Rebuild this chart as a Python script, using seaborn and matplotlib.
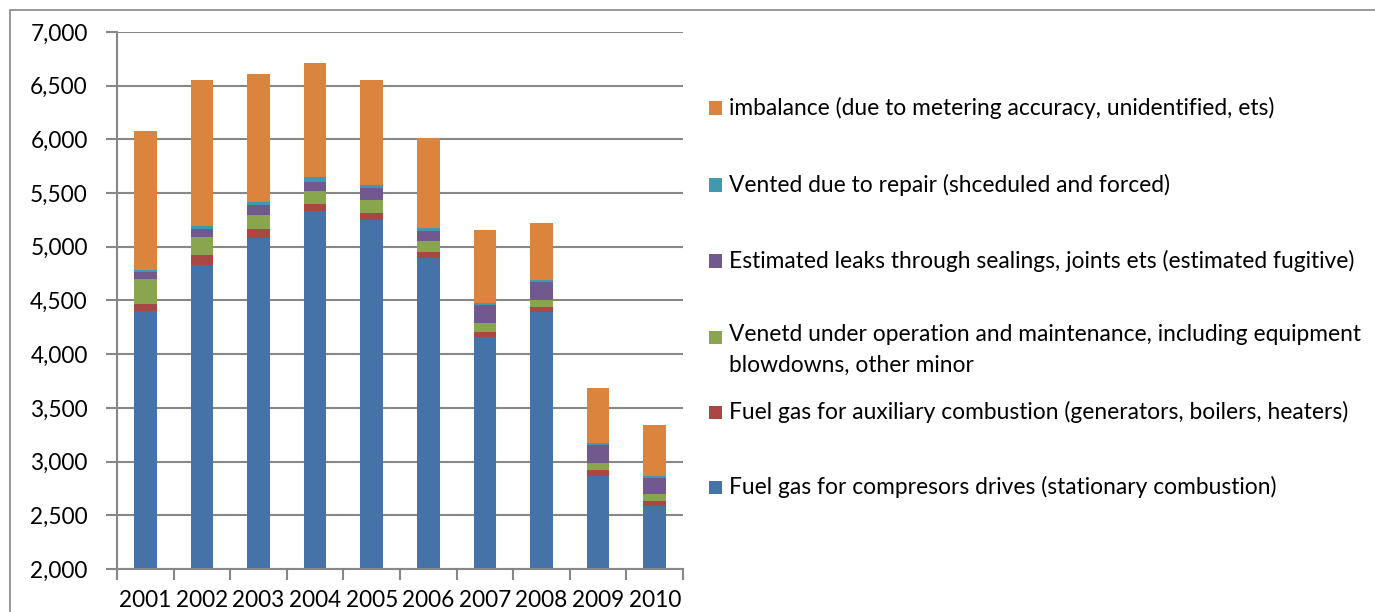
import numpy as np
import pandas as pd
import matplotlib
matplotlib.use("Agg")
import matplotlib.pyplot as plt
import seaborn as sns
from matplotlib.patches import Rectangle
from matplotlib.ticker import FuncFormatter, FixedLocator

years = ["2001", "2002", "2003", "2004", "2005", "2006", "2007", "2008", "2009", "2010"]
compressor = [4400, 4830, 5085, 5330, 5250, 4900, 4160, 4390, 2870, 2585]
auxiliary = [65, 90, 77, 70, 68, 56, 50, 47, 53, 46]
vented_om = [235, 175, 137, 115, 121, 97, 84, 68, 62, 68]
leaks = [70, 70, 90, 93, 106, 96, 161, 171, 165, 146]
vented_repair = [15, 25, 25, 40, 31, 28, 22, 19, 19, 22]
imbalance = [1295, 1360, 1195, 1065, 973, 835, 680, 531, 515, 478]

series_names = [
    "Fuel gas for compresors drives (stationary combustion)",
    "Fuel gas for auxiliary combustion (generators, boilers, heaters)",
    "Venetd under operation and maintenance, including equipment\nblowdowns, other minor",
    "Estimated leaks through sealings, joints ets (estimated fugitive)",
    "Vented due to repair (shceduled and forced)",
    "imbalance (due to metering accuracy, unidentified, ets)",
]
series_values = [compressor, auxiliary, vented_om, leaks, vented_repair, imbalance]
colors = ["#4572A7", "#AA4643", "#89A54E", "#71588F", "#4198AF", "#DB843D"]

sns.set_theme(style="white")
plt.rcParams["font.family"] = ["Lato", "DejaVu Sans"]

df = pd.DataFrame({"Year": years})
cum = np.zeros(len(years))
cum_cols = []
for i, vals in enumerate(series_values):
    cum = cum + np.array(vals, dtype=float)
    col = f"cum{i}"
    df[col] = cum
    cum_cols.append(col)

fig = plt.figure(figsize=(13.75, 6.12), dpi=100)
ax = fig.add_axes([117 / 1375, 1 - 569 / 612, 566 / 1375, 537 / 612])

for i in reversed(range(len(series_values))):
    sns.barplot(data=df, x="Year", y=cum_cols[i], color=colors[i], width=0.4,
                saturation=1, ax=ax, order=years, linewidth=0, zorder=3)

ax.set_ylim(2000, 7000)
ax.set_xlim(-0.5, len(years) - 0.5)
ax.set_yticks(np.arange(2000, 7001, 500))
ax.yaxis.set_major_formatter(FuncFormatter(lambda v, p: f"{int(v):,}"))
ax.set_xlabel("")
ax.set_ylabel("")
ax.grid(axis="y", color="#878787", linewidth=1.5, zorder=0)
ax.set_axisbelow(True)
for s in ["top", "right"]:
    ax.spines[s].set_visible(False)
for s in ["left", "bottom"]:
    ax.spines[s].set_color("#878787")
    ax.spines[s].set_linewidth(1.5)
    ax.spines[s].set_zorder(4)

ax.tick_params(axis="y", which="major", direction="out", length=8, width=1.5,
               color="#878787", labelsize=16.3, labelcolor="black", pad=13, left=True)
ax.set_xticks(range(len(years)))
ax.set_xticklabels(years)
ax.tick_params(axis="x", which="major", length=0, labelsize=16.3, labelcolor="black", pad=15)
ax.xaxis.set_minor_locator(FixedLocator(np.arange(-0.5, len(years), 1.0)))
ax.tick_params(axis="x", which="minor", direction="out", length=8, width=1.5,
               color="#878787", bottom=True)

# legend (manual, Excel-like layout)
legend_y = [108, 185, 261, 337, 412, 487]
order = [5, 4, 3, 2, 1, 0]
for k, idx in enumerate(order):
    yc = legend_y[k]
    fig.patches.append(Rectangle((709 / 1375, 1 - (yc + 6.5) / 612), 13 / 1375, 13 / 612,
                                 transform=fig.transFigure, facecolor=colors[idx],
                                 edgecolor="none"))
    if "\n" in series_names[idx]:
        fig.text(729 / 1375, 1 - (yc - 13) / 612, series_names[idx], fontsize=16.4,
                 va="top", ha="left", color="black", linespacing=1.6)
    else:
        fig.text(729 / 1375, 1 - yc / 612, series_names[idx], fontsize=16.4,
                 va="center", ha="left", color="black")

# outer chart border
fig.patches.append(Rectangle((10 / 1375, -0.05), 1.1, 1 - 10 / 612 + 0.05,
                             transform=fig.transFigure, facecolor="none",
                             edgecolor="#878787", linewidth=1.2))

fig.savefig("out.png", dpi=100)
